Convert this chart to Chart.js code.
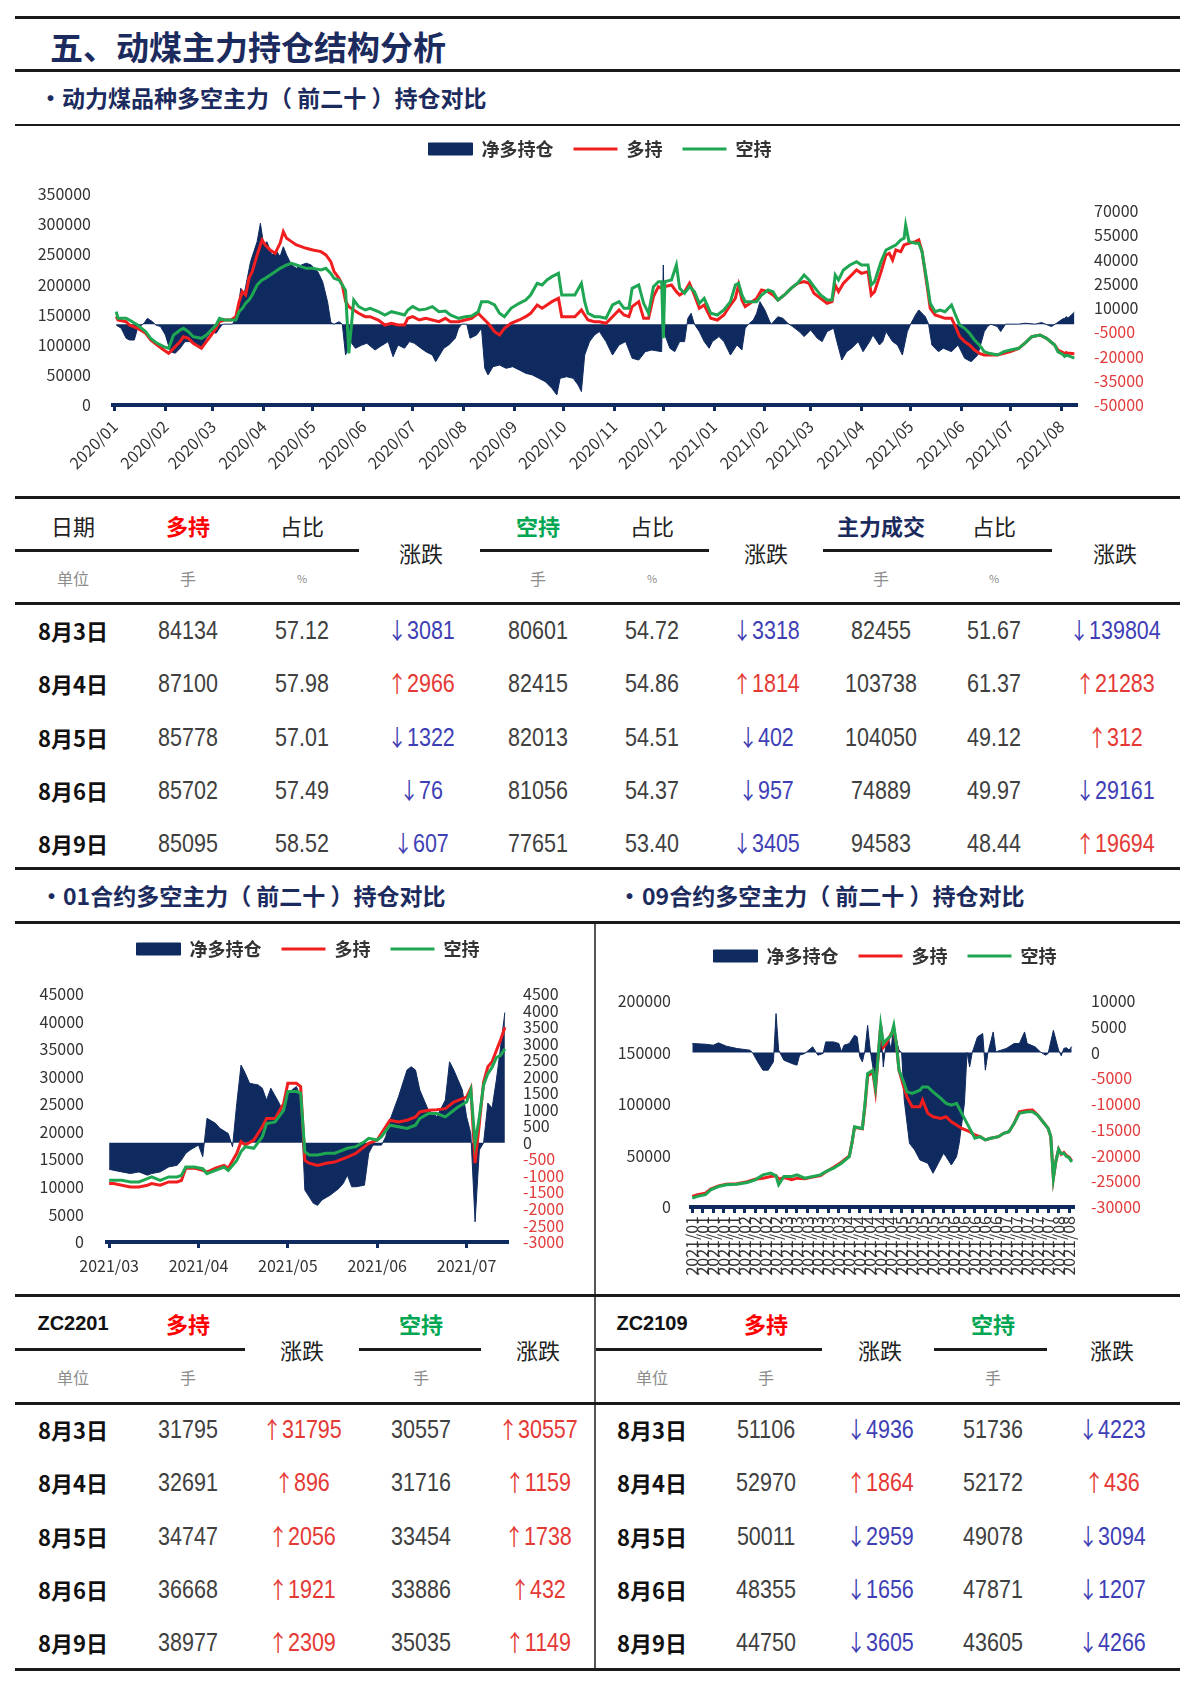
<!DOCTYPE html>
<html lang="zh-CN">
<head>
<meta charset="utf-8">
<title>动煤主力持仓结构分析</title>
<script src="https://cdn.jsdelivr.net/npm/chart.js@4.4.1/dist/chart.umd.min.js"></script>
<style>
  body { margin: 0; background: #fff; }
  #page { position: relative; width: 1200px; height: 1685px; overflow: hidden; font-family: 'Noto Sans CJK SC', sans-serif; }
  #page canvas { position: absolute; }
  .rule { position: absolute; background: #1a1a1a; }
  .vline { position: absolute; background: #555; }
  .head { position: absolute; transform: translateY(-50%); white-space: nowrap; font-weight: bold; color: #1c2b5e; line-height: 1; }
  .t { position: absolute; transform: translate(-50%, -50%); white-space: nowrap; line-height: 1; }
  .hd { font-size: 22px; color: #222; }
  .hl { font-size: 22px; font-weight: bold; color: #ff0000; }
  .hs { font-size: 22px; font-weight: bold; color: #00a651; }
  .hv { font-size: 22px; font-weight: bold; color: #1c2b5e; }
  .un { font-size: 16px; color: #8c8c8c; }
  .pc { font-size: 11px; color: #8c8c8c; }
  .dt { font-size: 22px; font-weight: bold; color: #111; }
  .num { font-family: 'Liberation Sans', sans-serif; font-size: 25px; color: #404040; transform: translate(-50%, -50%) scaleX(0.86); }
  .code { font-family: 'Liberation Sans', sans-serif; font-size: 20px; font-weight: bold; color: #111; }
  .up { color: #e53935; }
  .dn { color: #3f3fb5; }
  .num i { font-style: normal; font-family: 'Noto Sans CJK SC', sans-serif; font-size: 23px; }
</style>
</head>
<body>
<div id="page">
  <div class="rule" style="left:15px;width:1165px;top:16px;height:3px"></div>
  <div class="head" style="left:50px;top:46px;font-size:33px">五、动煤主力持仓结构分析</div>
  <div class="rule" style="left:15px;width:1165px;top:69px;height:3px"></div>
  <div class="head" style="left:39px;top:97px;font-size:23px">•</div>
  <div class="head" style="left:62px;top:97px;font-size:23px">动力煤品种多空主力（ 前二十 ）持仓对比</div>
  <div class="rule" style="left:15px;width:1165px;top:124px;height:2px"></div>

  <canvas id="mainChart" width="1200" height="372" style="left:0;top:120px"></canvas>

  <div class="head" style="left:40px;top:895px;font-size:23px">•</div>
  <div class="head" style="left:63px;top:895px;font-size:23px">01合约多空主力（ 前二十 ）持仓对比</div>
  <div class="head" style="left:618px;top:895px;font-size:23px">•</div>
  <div class="head" style="left:642px;top:895px;font-size:23px">09合约多空主力（ 前二十 ）持仓对比</div>
  <div class="vline" style="left:594px;width:2px;top:922px;height:747px"></div>

  <canvas id="oneChart" width="581" height="370" style="left:14px;top:920px"></canvas>
  <canvas id="nineChart" width="583" height="363" style="left:597px;top:927px"></canvas>
</div>

<script>
// ---------- chart data ----------

// 动力煤品种 (main chart, calendar dates)
const MAIN_MONTHS = ['2020/01', '2020/02', '2020/03', '2020/04', '2020/05', '2020/06', '2020/07', '2020/08', '2020/09', '2020/10',
  '2020/11', '2020/12', '2021/01', '2021/02', '2021/03', '2021/04', '2021/05', '2021/06', '2021/07', '2021/08'];

const MAIN_DATES = [
  '2020-01-02', '2020-01-03', '2020-01-08', '2020-01-10', '2020-01-15', '2020-01-20', '2020-01-23', '2020-01-27', '2020-01-31', '2020-02-03',
  '2020-02-06', '2020-02-10', '2020-02-12', '2020-02-15', '2020-02-18', '2020-02-23', '2020-02-26', '2020-02-29', '2020-03-03', '2020-03-05',
  '2020-03-08', '2020-03-12', '2020-03-15', '2020-03-17', '2020-03-19', '2020-03-21', '2020-03-23', '2020-03-25', '2020-03-28', '2020-03-31',
  '2020-04-02', '2020-04-05', '2020-04-08', '2020-04-11', '2020-04-13', '2020-04-15', '2020-04-18', '2020-04-21', '2020-04-24', '2020-04-27',
  '2020-05-01', '2020-05-06', '2020-05-09', '2020-05-12', '2020-05-14', '2020-05-17', '2020-05-19', '2020-05-21', '2020-05-23', '2020-05-26',
  '2020-05-29', '2020-06-02', '2020-06-05', '2020-06-10', '2020-06-14', '2020-06-18', '2020-06-22', '2020-06-26', '2020-06-28', '2020-07-01',
  '2020-07-05', '2020-07-09', '2020-07-13', '2020-07-17', '2020-07-21', '2020-07-24', '2020-07-29', '2020-08-02', '2020-08-06', '2020-08-10',
  '2020-08-12', '2020-08-16', '2020-08-20', '2020-08-23', '2020-08-26', '2020-08-30', '2020-09-04', '2020-09-08', '2020-09-11', '2020-09-15',
  '2020-09-18', '2020-09-21', '2020-09-24', '2020-09-28', '2020-09-30', '2020-10-08', '2020-10-12', '2020-10-14', '2020-10-16', '2020-10-20',
  '2020-10-23', '2020-10-27', '2020-10-31', '2020-11-04', '2020-11-07', '2020-11-10', '2020-11-12', '2020-11-16', '2020-11-19', '2020-11-22',
  '2020-11-25', '2020-11-28', '2020-11-30', '2020-12-01', '2020-12-02', '2020-12-06', '2020-12-09', '2020-12-11', '2020-12-14', '2020-12-17',
  '2020-12-20', '2020-12-23', '2020-12-26', '2020-12-30', '2021-01-03', '2021-01-07', '2021-01-11', '2021-01-14', '2021-01-16', '2021-01-18',
  '2021-01-20', '2021-01-23', '2021-01-27', '2021-01-30', '2021-02-03', '2021-02-06', '2021-02-09', '2021-02-13', '2021-02-17', '2021-02-21',
  '2021-02-25', '2021-02-28', '2021-03-03', '2021-03-07', '2021-03-11', '2021-03-14', '2021-03-16', '2021-03-18', '2021-03-21', '2021-03-25',
  '2021-03-29', '2021-04-01', '2021-04-05', '2021-04-07', '2021-04-09', '2021-04-13', '2021-04-16', '2021-04-18', '2021-04-20', '2021-04-22',
  '2021-04-25', '2021-04-27', '2021-04-28', '2021-04-30', '2021-05-04', '2021-05-06', '2021-05-08', '2021-05-11', '2021-05-13', '2021-05-16',
  '2021-05-19', '2021-05-22', '2021-05-26', '2021-05-28', '2021-05-31', '2021-06-03', '2021-06-06', '2021-06-09', '2021-06-12', '2021-06-15',
  '2021-06-18', '2021-06-23', '2021-06-27', '2021-07-01', '2021-07-06', '2021-07-10', '2021-07-14', '2021-07-19', '2021-07-23', '2021-07-28',
  '2021-07-30', '2021-08-02', '2021-08-03', '2021-08-04', '2021-08-05', '2021-08-06', '2021-08-09'
];

const MAIN_LONG = [
  146500, 141000, 138200, 132700, 127200, 118900, 107800, 99500, 91200, 85700,
  94000, 105100, 113300, 110600, 102300, 94000, 105100, 116100, 127200, 138200,
  141000, 141000, 146500, 171400, 188000, 182500, 210100, 221200, 248900, 273700,
  265400, 257100, 251600, 268200, 287600, 276500, 271000, 265400, 262700, 259900,
  257100, 254400, 248900, 237800, 221200, 210100, 199100, 172000, 163000, 157600,
  152100, 146500, 146500, 141000, 132700, 135500, 132700, 132700, 143800, 146500,
  141000, 143800, 141000, 138200, 143800, 138200, 138200, 141000, 143800, 152100,
  146500, 135500, 121600, 116100, 127200, 135500, 141000, 146500, 152100, 165900,
  160400, 165900, 171400, 176900, 146500, 146500, 157600, 149300, 141000, 138200,
  138200, 135500, 146500, 157600, 149300, 146500, 163200, 171400, 143800, 143800,
  179700, 196300, 193500, 193500, 196300, 199100, 188000, 182500, 188000, 201900,
  182500, 160400, 165900, 143800, 141000, 149300, 165900, 176900, 199100, 174200,
  163200, 168700, 176900, 190800, 188000, 182500, 174200, 182500, 193500, 201900,
  204600, 201900, 185300, 176900, 168700, 171400, 199100, 188000, 201900, 212900,
  224000, 218400, 221200, 182500, 188000, 221200, 248900, 251600, 240600, 257100,
  254400, 265400, 266500, 268200, 271000, 273700, 254400, 199100, 160400, 149300,
  146500, 143800, 143800, 132700, 113300, 105100, 99500, 91200, 85700, 82900,
  82900, 82900, 85700, 88500, 94000, 103000, 113300, 116100, 110600, 99500,
  91000, 87200, 84134, 87100, 85778, 85702, 85095
];

const MAIN_SHORT = [
  154800, 143800, 143800, 141000, 132700, 121600, 110600, 102300, 96800, 94000,
  116100, 124400, 127200, 121600, 113300, 110600, 116100, 124400, 132700, 143800,
  141000, 141000, 141000, 154800, 160400, 168700, 174200, 182500, 199100, 207400,
  210100, 215700, 221200, 226700, 229500, 232300, 235000, 232300, 229500, 226700,
  226700, 224000, 226700, 218400, 210100, 207400, 199100, 190000, 85700, 174200,
  163200, 157600, 160400, 154800, 149300, 154800, 152100, 149300, 157600, 163200,
  157600, 159000, 163200, 154800, 155900, 149300, 143800, 146500, 147600, 154800,
  171400, 171400, 165900, 152100, 146500, 160400, 168700, 174200, 182500, 201900,
  199100, 207400, 212900, 218400, 182500, 182500, 201900, 171400, 152100, 146500,
  146500, 143800, 165900, 171400, 160400, 160400, 193500, 199100, 168700, 152100,
  196300, 204600, 204600, 110600, 204600, 207400, 232300, 193500, 185300, 196300,
  188000, 168700, 176900, 152100, 149300, 157600, 171400, 199100, 201900, 182500,
  171400, 171400, 171400, 182500, 190800, 188000, 174200, 182500, 193500, 201900,
  215700, 207400, 196300, 182500, 174200, 174200, 215700, 207400, 224000, 232300,
  237800, 232300, 232300, 199100, 204600, 237800, 257100, 259900, 262700, 265400,
  273700, 276500, 298600, 271000, 268200, 268200, 254400, 204600, 168700, 154800,
  157600, 154800, 165900, 152100, 132700, 127200, 118900, 107800, 99500, 88500,
  85700, 82900, 88500, 91200, 94000, 103000, 113300, 116100, 110600, 99500,
  88000, 83900, 80601, 82415, 82013, 81056, 77651
];

const MAIN_NET_DATES = [
  '2020-01-02', '2020-01-05', '2020-01-08', '2020-01-10', '2020-01-13', '2020-01-15', '2020-01-19', '2020-01-21', '2020-01-24', '2020-01-26',
  '2020-01-29', '2020-02-01', '2020-02-04', '2020-02-07', '2020-02-10', '2020-02-13', '2020-02-16', '2020-02-19', '2020-02-23', '2020-02-26',
  '2020-02-29', '2020-03-03', '2020-03-05', '2020-03-07', '2020-03-13', '2020-03-16', '2020-03-18', '2020-03-20', '2020-03-22', '2020-03-24',
  '2020-03-26', '2020-03-28', '2020-03-30', '2020-04-01', '2020-04-03', '2020-04-06', '2020-04-09', '2020-04-11', '2020-04-13', '2020-04-15',
  '2020-04-18', '2020-04-21', '2020-04-24', '2020-04-27', '2020-04-30', '2020-05-04', '2020-05-07', '2020-05-10', '2020-05-12', '2020-05-14',
  '2020-05-17', '2020-05-19', '2020-05-21', '2020-05-24', '2020-05-27', '2020-05-31', '2020-06-03', '2020-06-08', '2020-06-11', '2020-06-16',
  '2020-06-19', '2020-06-22', '2020-06-26', '2020-06-29', '2020-07-02', '2020-07-06', '2020-07-09', '2020-07-13', '2020-07-15', '2020-07-20',
  '2020-07-23', '2020-07-27', '2020-07-29', '2020-07-31', '2020-08-03', '2020-08-05', '2020-08-09', '2020-08-12', '2020-08-14', '2020-08-16',
  '2020-08-19', '2020-08-23', '2020-08-27', '2020-08-31', '2020-09-04', '2020-09-08', '2020-09-12', '2020-09-16', '2020-09-20', '2020-09-24',
  '2020-09-27', '2020-09-29', '2020-10-03', '2020-10-07', '2020-10-10', '2020-10-12', '2020-10-14', '2020-10-17', '2020-10-20', '2020-10-23',
  '2020-10-27', '2020-10-31', '2020-11-04', '2020-11-08', '2020-11-12', '2020-11-16', '2020-11-20', '2020-11-24', '2020-11-30', '2020-12-01',
  '2020-12-02', '2020-12-05', '2020-12-08', '2020-12-11', '2020-12-14', '2020-12-16', '2020-12-18', '2020-12-20', '2020-12-23', '2020-12-26',
  '2020-12-29', '2020-12-31', '2021-01-04', '2021-01-07', '2021-01-11', '2021-01-15', '2021-01-18', '2021-01-20', '2021-01-22', '2021-01-25',
  '2021-01-27', '2021-01-29', '2021-02-01', '2021-02-04', '2021-02-05', '2021-02-09', '2021-02-12', '2021-02-15', '2021-02-18', '2021-02-22',
  '2021-02-25', '2021-03-01', '2021-03-05', '2021-03-08', '2021-03-11', '2021-03-15', '2021-03-17', '2021-03-20', '2021-03-23', '2021-03-26',
  '2021-03-30', '2021-04-02', '2021-04-06', '2021-04-08', '2021-04-12', '2021-04-14', '2021-04-16', '2021-04-20', '2021-04-23', '2021-04-26',
  '2021-04-29', '2021-05-01', '2021-05-04', '2021-05-06', '2021-05-10', '2021-05-12', '2021-05-14', '2021-05-18', '2021-05-21', '2021-05-26',
  '2021-05-30', '2021-06-03', '2021-06-07', '2021-06-11', '2021-06-15', '2021-06-17', '2021-06-19', '2021-06-23', '2021-06-25', '2021-06-28',
  '2021-07-06', '2021-07-10', '2021-07-16', '2021-07-20', '2021-07-26', '2021-07-29', '2021-08-02', '2021-08-03', '2021-08-04', '2021-08-05',
  '2021-08-06', '2021-08-09'
];

const MAIN_NET = [
  -600, -2500, -8700, -9800, -9800, -2500, 600, 3600, 1600, -500,
  -1500, -6700, -17000, -18000, -14900, -10800, -10800, -12900, -14900, -8700,
  -4600, -5600, -2500, 0, 0, 5700, 22200, 18100, 28400, 38700,
  44900, 51000, 62400, 49000, 51000, 42800, 44900, 41800, 47900, 42800,
  36600, 34600, 36600, 37700, 36600, 32500, 26300, 13900, 1000, 0,
  1500, 0, -19100, -10800, -14900, -12900, -11800, -16000, -13900, -10800,
  -20100, -12900, -14900, -10800, -11800, -14900, -17000, -19100, -23200, -14900,
  -12900, -8700, -2500, 0, 0, -8700, -6700, -2500, -27300, -31400,
  -26300, -25300, -27300, -26300, -28300, -30400, -31400, -33500, -35600, -39700,
  -43800, -33500, -32500, -33500, -37600, -41700, -19100, -10800, -6700, -4600,
  -10800, -19100, -12900, -10800, -21100, -22200, -17000, -16000, -17000, 36600,
  -6700, -14900, -17000, -10800, -10800, 3600, 6700, 0, -4600, -10800,
  -14900, -10800, -7700, -10800, -19100, -12900, -16000, -2500, 0, 2600,
  6700, 13900, 8800, 1600, 0, 4600, 3600, 600, -1500, -4600,
  -7700, -3600, -8700, -10800, -4600, -2500, -10800, -22200, -17000, -14900,
  -10800, -17000, -10800, -6700, -12900, -10800, -4600, -10800, -12900, -19100,
  -4600, 0, 5700, 8800, 4600, 0, -12900, -17000, -14900, -17000,
  -12900, -21100, -23200, -19100, -4600, -1500, 0, -1500, -4600, 0,
  0, 600, 0, 1000, -1500, 500, 3300, 3500, 4700, 3800,
  4600, 7400
];

const MAIN_LEFT_TICKS = [0, 50000, 100000, 150000, 200000, 250000, 300000, 350000];
const MAIN_RIGHT_TICKS = [-50000, -35000, -20000, -5000, 10000, 25000, 40000, 55000, 70000];

// 01合约 (trading-day index, month label every 21 days)
const ONE_LABELS = ['2021/03', '2021/04', '2021/05', '2021/06', '2021/07'];
const ONE_DAYS = [0, 1, 3, 5, 7, 9, 10, 12, 14, 16, 17, 18, 20, 22, 23, 25, 27, 28, 30, 31,
  32, 34, 36, 37, 39, 41, 42, 44, 45, 46, 47, 49, 51, 53, 54, 56, 58, 60, 61, 63,
  64, 66, 68, 70, 72, 73, 75, 77, 79, 81, 82, 84, 85, 86, 87, 88, 89, 90, 91, 92, 93];
const ONE_LONG = [10600, 10600, 10300, 10000, 10000, 10300, 10600, 10300, 10900, 10900,
  11200, 13400, 13400, 13000, 12700, 13400, 13900, 13400, 16100, 18200,
  17600, 18500, 20900, 22400, 22400, 25100, 28800, 28800, 28200, 14800,
  14300, 13900, 14300, 14500, 14800, 15400, 16100, 17300, 17900, 18500,
  19700, 22100, 21800, 22100, 22700, 23600, 23900, 24000, 24200, 25400,
  25700, 26300, 27900, 14300, 21500, 29000, 31795, 32691, 34747, 36668, 38977];
const ONE_SHORT = [11200, 11200, 11200, 10900, 10900, 11500, 11800, 11200, 11800, 11800,
  12100, 13600, 13600, 13300, 12400, 13000, 13600, 13000, 14800, 16400,
  17300, 17000, 19100, 21500, 21800, 23900, 27300, 27300, 27000, 16400,
  15800, 15800, 16100, 16100, 16400, 17000, 17300, 18200, 18800, 18500,
  19100, 21200, 20900, 20600, 21200, 22400, 23300, 23300, 22700, 23900,
  24500, 25400, 27600, 17900, 22700, 28500, 30557, 31716, 33454, 33886, 35035];
const ONE_NET_DAYS = [0, 1, 3, 5, 7, 9, 10, 12, 14, 16, 17, 18, 19, 21, 22, 23, 25, 26, 28, 29,
  30, 31, 32, 33, 35, 36, 37, 38, 40, 41, 42, 44, 45, 46, 48, 49, 50, 52, 54, 55,
  56, 57, 58, 60, 61, 62, 64, 65, 66, 68, 70, 71, 72, 73, 75, 77, 79, 80, 81, 83,
  84, 85, 86, 87, 88, 89, 90, 91, 92, 93];
const ONE_NET = [-800, -830, -880, -930, -880, -980, -930, -880, -730, -680, -520, -320, -220, -70, -420, 740, 590, 440, 280, -120,
  1190, 2350, 2100, 1800, 1750, 1650, 1290, 1650, 1190, 890, 1500, 1700, 1390, -1430, -1830, -1890, -1730, -1580, -1380, -1230,
  -980, -1330, -1330, -1280, -320, -70, -70, 180, 690, 1390, 2200, 2300, 2200, 1600, 990, 790, 1290, 2450, 2200, 1600,
  790, 280, -2390, -220, 0, 1200, 1050, 1900, 2900, 3940];
const ONE_LEFT_TICKS = [0, 5000, 10000, 15000, 20000, 25000, 30000, 35000, 40000, 45000];
const ONE_RIGHT_TICKS = [-3000, -2500, -2000, -1500, -1000, -500, 0, 500, 1000, 1500, 2000, 2500, 3000, 3500, 4000, 4500];

// 09合约 (trading-day index, a label every 4 days)
const NINE_LABELS = ['2021/01', '2021/01', '2021/01', '2021/01', '2021/01',
  '2021/02', '2021/02', '2021/02', '2021/02',
  '2021/03', '2021/03', '2021/03', '2021/03', '2021/03', '2021/03',
  '2021/04', '2021/04', '2021/04', '2021/04', '2021/04',
  '2021/05', '2021/05', '2021/05', '2021/05', '2021/05',
  '2021/06', '2021/06', '2021/06', '2021/06', '2021/06',
  '2021/07', '2021/07', '2021/07', '2021/07', '2021/07',
  '2021/08', '2021/08'];
const NINE_DAYS = [0, 2, 5, 7, 10, 13, 17, 21, 24, 27, 30, 32, 33, 35, 38, 40, 43, 46, 49, 51,
  54, 57, 60, 61, 62, 65, 66, 67, 69, 70, 71, 72, 73, 74, 76, 77, 78, 79, 81, 82,
  84, 87, 88, 90, 92, 95, 97, 99, 101, 103, 106, 108, 110, 112, 114, 117, 119, 121, 123, 125,
  128, 130, 132, 134, 136, 137, 138, 139, 140, 141, 142, 143, 144, 145];
const NINE_LONG = [10300, 11900, 13500, 17500, 20500, 22000, 22500, 24500, 27000, 28000,
  29600, 30300, 27000, 28500, 26400, 28000, 27500, 29000, 30500, 34000,
  38500, 43500, 49500, 62000, 77500, 76000, 98000, 127000, 131000, 113000,
  145000, 176300, 155000, 158000, 168200, 171500, 158600, 132800, 115000, 107000,
  97300, 97300, 103800, 90900, 87600, 86000, 87600, 82800, 79600, 76300,
  73100, 69900, 68300, 65100, 66700, 68300, 71600, 73100, 81200, 92500,
  94000, 94100, 89200, 82800, 76300, 68300, 28000, 45000, 56000, 51106,
  52970, 50011, 48355, 44750];
const NINE_SHORT = [8700, 10300, 11900, 16700, 19900, 21600, 22200, 23800, 26400, 31200,
  32900, 30300, 21600, 29600, 29600, 31200, 28000, 29600, 31200, 34400,
  37700, 42500, 48900, 61900, 77900, 76300, 100600, 129600, 132800, 116600,
  145600, 176300, 158600, 161800, 166600, 176300, 158600, 132800, 119900, 111800,
  110200, 113400, 116600, 116600, 111800, 105400, 100600, 98900, 100600, 90900,
  76300, 66700, 68300, 65100, 66700, 68300, 71600, 73100, 81200, 90900,
  92400, 92400, 89200, 82800, 76300, 68300, 28000, 45000, 56000, 51736,
  52172, 49078, 47871, 43605];
const NINE_NET_DAYS = [0, 5, 8, 10, 13, 17, 22, 23, 25, 27, 29, 31, 32, 33, 35, 38, 40, 41, 43, 46,
  48, 50, 51, 54, 56, 57, 58, 60, 62, 63, 64, 65, 66, 67, 68, 69, 70, 71, 72, 73,
  74, 75, 76, 77, 78, 79, 80, 81, 83, 85, 87, 90, 92, 94, 96, 97, 99, 101, 102, 104,
  105, 106, 107, 109, 111, 112, 113, 115, 116, 118, 120, 123, 125, 127, 128, 131, 133, 135, 136, 138,
  140, 141, 142, 143, 144, 145];
const NINE_NET = [1740, 1610, 1420, 1870, 1230, 780, 450, 0, -1820, -3430, -3430, -1820, 7560, 450, -1490, -2130, -2460, -520, -190, 1100,
  -520, -190, 2060, 2060, 1740, 130, 1420, 1740, 3350, 3030, -840, -1820, 450, 5290, 450, -2790, -6660, -1490, 4960, -2790,
  1740, 2710, 450, 5930, 2390, 450, 0, -9240, -17640, -18930, -20870, -21510, -23450, -21510, -19570, -20230, -21840, -20230, -17640, -9880,
  0, -2790, 0, 3030, 3680, -3430, 0, 3990, 130, 450, 780, 1740, 1740, 3990, 1740, 1100, 130, -520, -190, 4320,
  450, -630, 800, 930, 480, 1145];
const NINE_LEFT_TICKS = [0, 50000, 100000, 150000, 200000];
const NINE_RIGHT_TICKS = [-30000, -25000, -20000, -15000, -10000, -5000, 0, 5000, 10000];

// ---------- table data ----------
const TABLE_DATES = ['8月3日', '8月4日', '8月5日', '8月6日', '8月9日'];
const MAIN_T_LONG = [84134, 87100, 85778, 85702, 85095];
const MAIN_T_LONG_PCT = ['57.12', '57.98', '57.01', '57.49', '58.52'];
const MAIN_T_LONG_CHG = [-3081, 2966, -1322, -76, -607];
const MAIN_T_SHORT = [80601, 82415, 82013, 81056, 77651];
const MAIN_T_SHORT_PCT = ['54.72', '54.86', '54.51', '54.37', '53.40'];
const MAIN_T_SHORT_CHG = [-3318, 1814, -402, -957, -3405];
const MAIN_T_VOL = [82455, 103738, 104050, 74889, 94583];
const MAIN_T_VOL_PCT = ['51.67', '61.37', '49.12', '49.97', '48.44'];
const MAIN_T_VOL_CHG = [-139804, 21283, 312, -29161, 19694];

const ZC2201_LONG = [31795, 32691, 34747, 36668, 38977];
const ZC2201_LONG_CHG = [31795, 896, 2056, 1921, 2309];
const ZC2201_SHORT = [30557, 31716, 33454, 33886, 35035];
const ZC2201_SHORT_CHG = [30557, 1159, 1738, 432, 1149];

const ZC2109_LONG = [51106, 52970, 50011, 48355, 44750];
const ZC2109_LONG_CHG = [-4936, 1864, -2959, -1656, -3605];
const ZC2109_SHORT = [51736, 52172, 49078, 47871, 43605];
const ZC2109_SHORT_CHG = [-4223, 436, -3094, -1207, -4266];

// ---------- charts ----------
const NAVY = '#0f2a5f';
const RED = '#f01e1e';
const GREEN = '#1fa653';
const INK = '#333333';
const NEG = '#e23b3b';

Chart.defaults.font.family = "'Noto Sans CJK SC', sans-serif";
Chart.defaults.color = INK;

// extra room between the legend and the plot
const legendGap = {
  id: 'legendGap',
  afterInit(chart, args, opts) {
    const legend = chart.legend;
    const fit = legend.fit;
    legend.fit = function () {
      fit.call(this);
      this.height += opts.size;
    };
  }
};

function dayNum(s) {
  const p = s.split(/[-\/]/).map(Number);
  return (Date.UTC(p[0], p[1] - 1, p[2] || 1) - Date.UTC(2020, 0, 1)) / 864e5;
}

function points(xs, ys) {
  return xs.map((x, i) => ({ x: x, y: ys[i] }));
}

function drawPositionChart(id, o) {
  new Chart(document.getElementById(id), {
    type: 'line',
    plugins: [legendGap],
    data: {
      datasets: [
        { label: '净多持仓', data: o.net, yAxisID: 'y1', order: 3, fill: 'origin',
          backgroundColor: NAVY, borderColor: NAVY, borderWidth: 1, pointRadius: 0, pointStyle: 'rect' },
        { label: '多持', data: o.long, yAxisID: 'y', order: 2, fill: false,
          borderColor: RED, backgroundColor: RED, borderWidth: 3, pointRadius: 0, pointStyle: 'line', pointBorderWidth: 3 },
        { label: '空持', data: o.short, yAxisID: 'y', order: 1, fill: false,
          borderColor: GREEN, backgroundColor: GREEN, borderWidth: 3, pointRadius: 0, pointStyle: 'line', pointBorderWidth: 3 }
      ]
    },
    options: {
      responsive: false,
      animation: false,
      events: [],
      layout: { padding: o.padding },
      elements: { line: { tension: 0 } },
      plugins: {
        legendGap: { size: 26 },
        legend: {
          labels: {
            usePointStyle: true,
            pointStyleWidth: 44,
            boxHeight: 12,
            padding: 20,
            color: INK,
            font: { size: 18, weight: 'bold' },
            sort: (a, b) => a.datasetIndex - b.datasetIndex
          }
        },
        tooltip: { enabled: false }
      },
      scales: {
        x: {
          type: 'linear',
          min: o.xMin,
          max: o.xMax,
          border: { color: NAVY, width: 4 },
          grid: { drawOnChartArea: false, color: NAVY, lineWidth: 3, tickLength: 6 },
          ticks: {
            autoSkip: false,
            minRotation: o.rotation,
            maxRotation: o.rotation,
            padding: o.xPadding,
            color: INK,
            font: { size: o.xFont },
            callback: (v, i) => o.xLabels[i]
          },
          afterBuildTicks: s => { s.ticks = o.xTicks.map(v => ({ value: v })); },
          afterFit: s => { s.height = o.xHeight; }
        },
        y: {
          position: 'left',
          min: o.left[0],
          max: o.left[o.left.length - 1],
          grid: { display: false, drawTicks: false },
          border: { display: false },
          ticks: { autoSkip: false, padding: o.leftPad, color: INK, font: { size: 16 }, callback: v => String(v) },
          afterBuildTicks: s => { s.ticks = o.left.map(v => ({ value: v })); },
          afterFit: s => { s.width = o.leftWidth; }
        },
        y1: {
          position: 'right',
          min: o.right[0],
          max: o.rightMax,
          grid: { display: false, drawTicks: false },
          border: { display: false },
          ticks: {
            autoSkip: false,
            padding: o.rightPad,
            font: { size: 16 },
            color: c => (c.tick.value < 0 ? NEG : INK),
            callback: v => String(v)
          },
          afterBuildTicks: s => { s.ticks = o.right.map(v => ({ value: v })); },
          afterFit: s => { s.width = o.rightWidth; }
        }
      }
    }
  });
}

function initializeCharts() {
  drawPositionChart('mainChart', {
    net: points(MAIN_NET_DATES.map(dayNum), MAIN_NET),
    long: points(MAIN_DATES.map(dayNum), MAIN_LONG),
    short: points(MAIN_DATES.map(dayNum), MAIN_SHORT),
    xMin: -1, xMax: dayNum('2021-08-10'),
    xTicks: MAIN_MONTHS.map(dayNum), xLabels: MAIN_MONTHS,
    rotation: 45, xFont: 16, xPadding: 6, xHeight: 87,
    left: MAIN_LEFT_TICKS, right: MAIN_RIGHT_TICKS, rightMax: 80500,
    leftWidth: 113, rightWidth: 124, leftPad: 22, rightPad: 18,
    padding: 0
  });

  drawPositionChart('oneChart', {
    net: points(ONE_NET_DAYS, ONE_NET),
    long: points(ONE_DAYS, ONE_LONG),
    short: points(ONE_DAYS, ONE_SHORT),
    xMin: -0.5, xMax: 93.5,
    xTicks: ONE_LABELS.map((_, i) => i * 21), xLabels: ONE_LABELS,
    rotation: 0, xFont: 16, xPadding: 8, xHeight: 48,
    left: ONE_LEFT_TICKS, right: ONE_RIGHT_TICKS, rightMax: 4500,
    leftWidth: 86, rightWidth: 88, leftPad: 23, rightPad: 16,
    padding: { left: 7 }
  });

  drawPositionChart('nineChart', {
    net: points(NINE_NET_DAYS, NINE_NET),
    long: points(NINE_DAYS, NINE_LONG),
    short: points(NINE_DAYS, NINE_SHORT),
    xMin: -0.5, xMax: 145.5,
    xTicks: NINE_LABELS.map((_, i) => i * 4), xLabels: NINE_LABELS,
    rotation: 90, xFont: 16, xPadding: 3, xHeight: 83,
    left: NINE_LEFT_TICKS, right: NINE_RIGHT_TICKS, rightMax: 10000,
    leftWidth: 94, rightWidth: 100, leftPad: 20, rightPad: 18,
    padding: { right: 7 }
  });
}

// ---------- tables ----------
const page = document.getElementById('page');

function put(html, x, y, cls) {
  const d = document.createElement('div');
  d.className = 't ' + cls;
  d.style.left = x + 'px';
  d.style.top = y + 'px';
  d.innerHTML = html;
  page.appendChild(d);
}

function rule(x1, x2, y, h) {
  const d = document.createElement('div');
  d.className = 'rule';
  d.style.cssText = `left:${x1}px;width:${x2 - x1}px;top:${y - h / 2}px;height:${h}px`;
  page.appendChild(d);
}

function chg(v) {
  return v > 0 ? `<span class="up"><i>↑</i>${v}</span>` : `<span class="dn"><i>↓</i>${-v}</span>`;
}

function buildMainTable() {
  const c = [73, 188, 302, 421, 538, 652, 766, 881, 994, 1115];
  rule(15, 1180, 497, 3);
  put('日期', c[0], 525, 'hd');
  put('多持', c[1], 525, 'hl');
  put('占比', c[2], 525, 'hd');
  put('空持', c[4], 525, 'hs');
  put('占比', c[5], 525, 'hd');
  put('主力成交', c[7], 525, 'hv');
  put('占比', c[8], 525, 'hd');
  [c[3], c[6], c[9]].forEach(x => put('涨跌', x, 552, 'hd'));
  rule(15, 359, 550, 3); rule(480, 709, 550, 3); rule(823, 1052, 550, 3);
  put('单位', c[0], 578, 'un');
  put('手', c[1], 578, 'un'); put('%', c[2], 578, 'pc');
  put('手', c[4], 578, 'un'); put('%', c[5], 578, 'pc');
  put('手', c[7], 578, 'un'); put('%', c[8], 578, 'pc');
  rule(15, 1180, 603, 3);
  TABLE_DATES.forEach((d, i) => {
    const y = 630 + i * 53.3;
    put(d, c[0], y, 'dt');
    put(MAIN_T_LONG[i], c[1], y, 'num');
    put(MAIN_T_LONG_PCT[i], c[2], y, 'num');
    put(chg(MAIN_T_LONG_CHG[i]), c[3], y, 'num');
    put(MAIN_T_SHORT[i], c[4], y, 'num');
    put(MAIN_T_SHORT_PCT[i], c[5], y, 'num');
    put(chg(MAIN_T_SHORT_CHG[i]), c[6], y, 'num');
    put(MAIN_T_VOL[i], c[7], y, 'num');
    put(MAIN_T_VOL_PCT[i], c[8], y, 'num');
    put(chg(MAIN_T_VOL_CHG[i]), c[9], y, 'num');
  });
  rule(15, 1180, 868, 3);
  rule(15, 1180, 922, 3);
}

function buildContractTable(code, c, seg, longs, longChg, shorts, shortChg) {
  put(code, c[0], 1323, 'code');
  put('多持', c[1], 1323, 'hl');
  put('空持', c[3], 1323, 'hs');
  put('涨跌', c[2], 1349, 'hd');
  put('涨跌', c[4], 1349, 'hd');
  rule(seg[0], seg[1], 1349, 3);
  rule(seg[2], seg[3], 1349, 3);
  put('单位', c[0], 1377, 'un');
  put('手', c[1], 1377, 'un');
  put('手', c[3], 1377, 'un');
  TABLE_DATES.forEach((d, i) => {
    const y = 1429 + i * 53.3;
    put(d, c[0], y, 'dt');
    put(longs[i], c[1], y, 'num');
    put(chg(longChg[i]), c[2], y, 'num');
    put(shorts[i], c[3], y, 'num');
    put(chg(shortChg[i]), c[4], y, 'num');
  });
}

buildMainTable();
rule(15, 1180, 1295, 3);
rule(15, 1180, 1403, 3);
rule(15, 1180, 1669, 3);
buildContractTable('ZC2201', [73, 188, 302, 421, 538], [15, 245, 359, 481],
  ZC2201_LONG, ZC2201_LONG_CHG, ZC2201_SHORT, ZC2201_SHORT_CHG);
buildContractTable('ZC2109', [652, 766, 880, 993, 1112], [596, 822, 934, 1047],
  ZC2109_LONG, ZC2109_LONG_CHG, ZC2109_SHORT, ZC2109_SHORT_CHG);

initializeCharts();
</script>
</body>
</html>
